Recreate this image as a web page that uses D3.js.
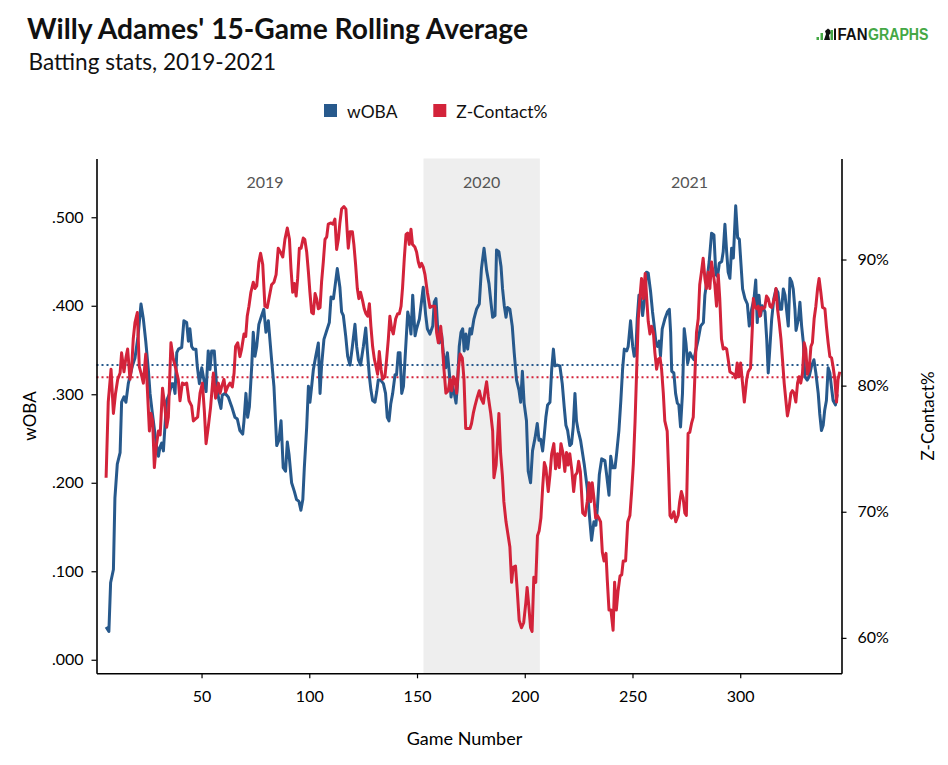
<!DOCTYPE html>
<html><head><meta charset="utf-8">
<script src="https://cdn.jsdelivr.net/npm/d3@7"></script>
<style>body{margin:0;background:#fff;} svg{display:block;font-family:Lato, "Open Sans", sans-serif;}</style>
</head><body><svg id="c" width="948" height="765"></svg>
<script>
// ---- data (game number, value) ----
const wOBA = [[5.7,.037],[7.0,.032],[7.8,.087],[9.1,.102],[9.8,.183],[10.9,.221],[12.2,.234],[12.9,.291],[14.0,.297],[14.9,.291],[16.0,.312],[17.9,.332],[19.1,.341],[20.5,.365],[21.9,.402],[23.0,.385],[24.1,.360],[25.3,.328],[26.1,.301],[27.0,.282],[28.4,.255],[29.2,.240],[30.0,.230],[30.7,.240],[31.5,.245],[32.3,.236],[33.0,.263],[33.8,.293],[35.0,.300],[36.1,.312],[36.9,.312],[37.7,.301],[38.5,.347],[39.3,.351],[40.8,.353],[41.8,.383],[43.1,.381],[43.9,.360],[44.6,.374],[45.4,.354],[46.2,.351],[47.4,.351],[48.0,.332],[49.0,.312],[50.1,.330],[51.1,.316],[52.1,.303],[53.1,.349],[53.9,.328],[54.7,.349],[55.9,.349],[57.0,.309],[58.1,.293],[59.0,.284],[59.6,.299],[60.9,.301],[62.4,.297],[64.0,.286],[65.5,.274],[66.6,.272],[67.8,.259],[69.1,.255],[69.7,.270],[70.6,.301],[71.4,.274],[72.2,.286],[73.3,.332],[74.0,.370],[74.8,.343],[75.6,.354],[76.6,.379],[77.9,.389],[78.9,.396],[79.9,.370],[81.0,.383],[82.5,.339],[83.6,.309],[84.9,.242],[85.9,.248],[86.9,.270],[87.9,.217],[89.0,.213],[89.8,.246],[90.6,.232],[91.8,.200],[93.1,.190],[94.1,.181],[95.2,.179],[96.1,.169],[97.0,.181],[97.7,.217],[98.8,.263],[99.6,.309],[100.3,.291],[101.1,.309],[101.9,.328],[103.0,.343],[104.2,.358],[105.0,.301],[105.7,.332],[106.8,.362],[108.1,.372],[109.3,.381],[110.1,.410],[111.2,.408],[111.9,.421],[113.0,.442],[114.2,.421],[115.0,.393],[115.8,.389],[116.9,.366],[117.8,.343],[118.9,.333],[120.0,.354],[121.2,.379],[122.0,.354],[122.8,.339],[123.8,.333],[125.1,.354],[126.2,.375],[126.9,.351],[127.9,.320],[128.6,.305],[129.4,.293],[130.5,.291],[131.3,.303],[132.0,.316],[133.1,.316],[134.4,.312],[135.4,.301],[136.2,.274],[137.0,.270],[137.8,.289],[138.7,.301],[139.8,.322],[140.5,.322],[141.3,.347],[142.1,.347],[142.9,.301],[143.7,.309],[144.7,.351],[145.7,.393],[146.4,.385],[147.2,.368],[148.0,.412],[149.1,.366],[149.8,.374],[151.1,.385],[152.9,.421],[154.0,.390],[154.8,.374],[156.0,.368],[157.3,.377],[158.0,.404],[158.8,.408],[159.6,.374],[160.4,.358],[161.4,.368],[162.2,.347],[163.3,.330],[164.1,.347],[165.0,.324],[165.8,.297],[166.5,.309],[167.3,.301],[168.1,.290],[168.8,.312],[169.6,.354],[170.4,.370],[171.2,.374],[171.9,.349],[172.7,.368],[173.5,.351],[174.6,.374],[175.3,.368],[176.4,.385],[177.6,.396],[178.9,.402],[179.9,.442],[181.1,.465],[182.3,.440],[183.4,.425],[184.3,.404],[185.1,.387],[186.2,.389],[186.9,.463],[188.0,.461],[189.0,.444],[189.7,.419],[190.5,.400],[191.3,.387],[192.0,.398],[193.1,.396],[194.2,.377],[195.1,.347],[196.2,.316],[197.3,.305],[198.1,.291],[198.9,.326],[199.7,.290],[200.8,.270],[201.6,.213],[202.7,.200],[203.6,.236],[204.8,.251],[205.8,.267],[206.6,.248],[207.4,.249],[208.3,.236],[209.1,.255],[209.8,.274],[210.6,.288],[211.7,.291],[212.5,.328],[213.3,.351],[214.0,.332],[215.1,.333],[216.3,.332],[217.4,.312],[218.3,.286],[219.1,.265],[219.9,.259],[220.9,.242],[221.7,.244],[222.5,.263],[223.3,.301],[224.0,.270],[224.8,.259],[225.9,.248],[227.6,.221],[229.0,.194],[230.0,.163],[231.0,.135],[232.1,.156],[233.0,.152],[233.7,.171],[234.6,.209],[235.7,.227],[237.2,.225],[238.0,.209],[239.1,.186],[239.9,.230],[240.8,.217],[241.9,.217],[242.6,.232],[243.7,.259],[244.6,.293],[245.4,.328],[246.2,.351],[247.3,.349],[248.0,.354],[249.1,.383],[250.1,.354],[250.8,.343],[251.5,.345],[252.2,.385],[253.0,.412],[253.9,.408],[254.7,.389],[255.8,.412],[256.5,.438],[257.3,.437],[258.4,.416],[259.3,.393],[259.9,.381],[260.9,.358],[261.6,.354],[262.4,.360],[263.0,.343],[263.8,.374],[265.0,.385],[266.2,.393],[267.1,.396],[267.7,.370],[268.2,.326],[269.2,.324],[270.0,.301],[270.8,.290],[271.5,.288],[272.3,.263],[273.2,.301],[274.0,.374],[274.8,.358],[275.6,.335],[276.7,.347],[277.4,.343],[278.5,.339],[279.5,.351],[280.5,.362],[281.6,.377],[282.9,.381],[283.6,.412],[284.7,.431],[285.6,.450],[286.7,.482],[287.8,.480],[288.7,.435],[289.5,.433],[290.3,.448],[291.4,.450],[292.1,.461],[292.9,.492],[293.7,.461],[294.4,.438],[295.2,.431],[296.0,.465],[296.8,.454],[297.9,.513],[298.8,.477],[299.6,.475],[301.1,.419],[302.2,.408],[303.3,.402],[304.2,.377],[305.3,.396],[306.4,.408],[307.2,.429],[307.9,.381],[308.7,.412],[309.5,.389],[310.2,.400],[311.5,.393],[312.3,.362],[313.0,.324],[313.8,.354],[314.6,.385],[315.6,.408],[316.6,.419],[317.5,.415],[318.4,.396],[319.2,.396],[320.0,.419],[320.8,.412],[321.6,.393],[322.3,.377],[323.1,.431],[323.9,.427],[324.6,.419],[325.4,.396],[325.9,.372],[327.0,.385],[327.7,.404],[328.5,.377],[329.3,.358],[330.0,.320],[331.1,.316],[332.0,.320],[333.1,.332],[334.2,.339],[335.1,.324],[336.2,.301],[336.9,.278],[337.7,.259],[338.5,.265],[339.2,.282],[340.0,.293],[340.8,.330],[341.6,.324],[342.3,.309],[343.1,.293],[344.2,.288],[345.0,.300]];

const zContact = [[5.7,72.7],[6.7,78.7],[8.0,81.3],[9.1,77.8],[10.1,79.4],[11.1,80.5],[12.2,81.0],[12.9,82.6],[14.0,81.1],[14.9,82.2],[15.7,82.9],[16.8,80.5],[17.6,81.5],[18.3,83.7],[19.1,85.0],[20.2,85.8],[21.1,81.5],[21.9,81.0],[23.0,80.2],[24.1,82.5],[24.8,79.9],[25.8,76.4],[26.5,77.8],[27.3,77.2],[28.1,73.5],[28.9,75.1],[30.0,76.4],[30.8,76.1],[31.9,79.8],[33.0,78.3],[33.8,76.7],[34.6,77.5],[35.8,83.4],[36.9,82.1],[38.1,81.3],[39.2,80.5],[40.0,78.8],[41.1,80.2],[42.0,80.1],[43.1,80.2],[44.2,78.8],[45.4,78.4],[46.2,77.2],[47.4,77.4],[48.2,77.5],[49.3,79.4],[50.4,80.2],[51.3,78.0],[52.1,75.4],[53.1,76.7],[54.2,78.3],[55.5,81.0],[56.5,79.0],[57.8,80.2],[58.6,79.4],[59.3,79.9],[60.4,80.5],[61.2,79.5],[62.1,79.9],[63.2,80.2],[64.3,79.9],[65.1,81.0],[65.8,83.1],[66.8,83.4],[67.8,82.3],[68.6,82.9],[69.7,84.1],[70.5,83.9],[71.2,85.5],[72.0,86.3],[72.9,87.4],[74.0,88.2],[74.8,87.7],[75.6,87.9],[76.6,89.8],[77.4,90.5],[78.4,89.6],[79.4,86.3],[80.5,86.2],[82.5,88.0],[83.6,88.2],[84.6,88.8],[85.6,90.9],[86.6,90.6],[87.7,90.2],[88.7,91.6],[89.8,92.5],[90.8,91.6],[91.5,89.3],[92.3,87.4],[93.1,88.1],[93.9,87.1],[94.6,88.5],[95.4,90.9],[96.2,90.9],[97.2,91.7],[97.9,91.6],[98.8,90.6],[99.6,89.0],[100.3,87.4],[101.1,85.8],[101.9,85.7],[102.7,87.3],[103.4,86.9],[104.2,86.1],[105.0,86.2],[105.7,88.2],[106.5,89.8],[107.3,91.6],[108.1,91.8],[108.8,92.8],[110.1,92.9],[111.0,92.8],[111.9,93.2],[112.7,90.8],[113.5,91.6],[114.2,92.9],[115.0,94.0],[116.1,94.2],[117.0,94.0],[117.6,92.2],[118.1,90.9],[118.9,92.2],[120.0,92.2],[120.7,91.2],[121.5,89.6],[122.3,87.7],[123.0,86.9],[123.8,87.4],[124.8,86.7],[125.5,86.1],[126.3,85.7],[127.1,85.5],[127.9,86.5],[128.6,84.7],[129.4,83.1],[130.2,82.1],[131.0,81.5],[131.7,80.9],[132.5,82.7],[133.3,81.3],[134.0,80.5],[135.1,80.7],[135.9,82.1],[136.7,83.7],[137.4,85.5],[138.2,84.5],[139.0,84.1],[140.1,85.3],[141.0,85.7],[141.8,85.7],[142.6,86.3],[143.3,87.8],[144.1,90.1],[144.9,92.0],[145.6,92.1],[146.4,91.2],[147.2,92.4],[147.9,91.2],[149.0,91.0],[149.8,90.6],[150.6,89.8],[151.3,89.4],[152.1,89.7],[152.9,89.4],[153.7,88.8],[154.8,87.4],[156.0,86.2],[157.1,86.3],[158.3,86.3],[159.1,84.2],[159.9,83.4],[161.0,84.7],[161.7,83.4],[162.5,81.3],[163.4,79.4],[164.5,79.6],[165.3,80.5],[166.1,79.6],[166.9,80.7],[167.6,80.5],[168.4,79.4],[169.2,81.3],[170.0,82.5],[171.0,82.2],[171.8,80.5],[172.6,76.6],[173.5,76.6],[174.6,76.6],[175.3,77.0],[176.1,77.8],[176.9,78.4],[178.0,79.1],[178.9,79.6],[179.7,79.0],[180.8,78.6],[181.6,79.6],[182.3,80.3],[183.1,79.1],[184.2,77.8],[185.1,76.4],[185.7,72.7],[186.7,73.7],[187.4,75.9],[188.0,77.8],[188.8,74.6],[189.6,72.9],[190.3,70.8],[191.3,69.2],[192.3,68.1],[193.1,67.2],[193.9,64.4],[194.6,65.6],[195.7,65.7],[196.5,63.8],[197.4,61.4],[198.5,60.8],[199.5,61.2],[200.5,62.8],[201.1,64.0],[201.9,62.5],[202.7,60.8],[203.4,60.5],[204.2,64.8],[205.1,64.4],[205.9,68.1],[206.7,68.5],[207.5,69.5],[208.3,71.9],[209.1,73.9],[209.8,73.5],[210.9,71.6],[211.7,72.9],[212.5,74.6],[213.5,75.4],[214.3,73.4],[215.2,74.6],[216.0,73.5],[216.8,75.4],[217.8,74.6],[218.6,73.2],[219.4,74.7],[220.1,73.7],[220.9,74.6],[221.9,73.2],[222.7,71.6],[223.5,72.9],[224.3,73.1],[225.0,74.0],[225.8,73.2],[226.9,69.9],[228.0,69.7],[229.0,70.8],[229.8,72.3],[230.6,70.8],[231.3,72.3],[232.1,71.1],[232.9,69.5],[233.7,69.7],[234.4,69.5],[235.2,69.2],[236.0,66.8],[236.8,66.1],[237.7,66.7],[238.3,64.6],[239.1,62.2],[240.0,62.2],[241.0,60.6],[241.7,64.4],[242.5,62.2],[243.3,63.7],[244.2,64.9],[245.0,65.0],[245.7,66.1],[246.8,66.1],[247.8,69.2],[248.8,69.7],[249.6,71.6],[250.4,73.8],[251.2,77.2],[251.9,81.0],[252.7,85.3],[253.5,87.1],[254.2,88.5],[255.0,86.9],[255.9,88.9],[256.6,86.9],[257.3,85.1],[258.1,84.1],[258.9,84.7],[259.7,84.2],[260.4,82.6],[261.2,81.3],[262.0,82.1],[262.8,82.2],[263.5,81.3],[264.3,79.4],[265.0,77.2],[266.1,76.4],[266.8,73.0],[267.4,69.7],[268.1,69.5],[269.2,70.0],[270.1,69.2],[271.2,69.7],[271.9,70.8],[272.7,71.6],[273.5,71.1],[274.3,69.9],[275.0,69.7],[275.8,76.2],[276.6,76.3],[277.4,77.0],[278.2,77.5],[278.9,80.5],[279.7,84.2],[280.5,85.3],[281.2,88.0],[282.0,89.0],[282.8,90.1],[283.6,88.5],[284.3,87.7],[285.1,89.0],[285.9,87.7],[286.7,89.8],[287.4,89.0],[288.2,88.0],[289.0,86.3],[289.8,88.8],[290.5,86.9],[291.3,83.7],[292.1,82.9],[292.9,83.0],[293.7,82.9],[294.4,82.1],[295.2,81.1],[296.0,81.0],[297.1,80.9],[297.8,80.6],[298.6,81.8],[299.4,80.7],[300.2,81.8],[300.9,80.5],[301.9,78.7],[303.0,80.5],[303.7,81.1],[304.8,81.4],[305.6,84.5],[306.1,86.9],[306.8,86.3],[307.6,86.1],[308.4,86.3],[309.1,85.5],[309.9,86.2],[310.7,86.1],[311.4,86.2],[312.2,87.1],[313.0,86.9],[313.8,86.3],[314.6,86.2],[315.3,86.6],[316.1,87.1],[316.6,87.7],[317.3,86.1],[318.1,85.0],[318.9,83.7],[319.6,82.1],[320.4,80.2],[321.2,78.8],[321.9,77.6],[322.7,78.3],[323.5,79.4],[324.2,79.6],[325.0,79.4],[325.8,78.7],[326.6,80.2],[327.3,80.7],[328.1,80.2],[328.9,81.0],[329.7,83.4],[330.4,82.9],[331.2,80.9],[332.0,81.3],[332.8,83.1],[333.5,83.4],[334.3,85.3],[335.1,86.3],[335.9,87.7],[336.6,88.5],[337.4,87.4],[338.2,86.2],[339.3,86.1],[340.0,84.7],[340.8,83.4],[341.6,82.3],[342.4,82.2],[343.1,81.5],[343.9,80.5],[344.7,78.7],[345.4,80.5],[346.2,81.1]];

const wOBAAverage = 0.333;
const zContactAverage = 80.67;
const seasons = [
  {label: "2019", start: 6, end: 153, shaded: false},
  {label: "2020", start: 153, end: 207, shaded: true},
  {label: "2021", start: 207, end: 346, shaded: false}
];
const xTickValues = [50, 100, 150, 200, 250, 300];
const wOBATickValues = [0, 0.1, 0.2, 0.3, 0.4, 0.5];
const zTickValues = [60, 70, 80, 90];
const seriesNames = ["wOBA", "Z-Contact%"];

// ---- layout ----
const BLUE = "#27598c", RED = "#d3233a";
const L = 96.5, R = 841.5, T = 158.5, B = 673.3;
const svg = d3.select("#c");

const x = d3.scaleLinear().domain([1.25, 347]).range([L, R]);
const yL = d3.scaleLinear().domain([-0.0153, 0.5664]).range([B, T]);
const yR = d3.scaleLinear().domain([57.19, 98.01]).range([B, T]);

// shading
svg.append("g").selectAll("rect").data(seasons.filter(s => s.shaded)).join("rect")
  .attr("x", d => x(d.start)).attr("width", d => x(d.end) - x(d.start))
  .attr("y", T).attr("height", B - T).attr("fill", "#eeeeee");

// season labels
svg.append("g").selectAll("text").data(seasons).join("text")
  .attr("x", d => x((d.start + d.end) / 2)).attr("y", 188)
  .attr("text-anchor", "middle").attr("font-size", 16).attr("fill", "#555")
  .text(d => d.label);

// average lines
svg.append("line").attr("x1", L).attr("x2", R).attr("y1", yL(wOBAAverage)).attr("y2", yL(wOBAAverage))
  .attr("stroke", BLUE).attr("stroke-width", 2).attr("stroke-dasharray", "2,3");
svg.append("line").attr("x1", L).attr("x2", R).attr("y1", yR(zContactAverage)).attr("y2", yR(zContactAverage))
  .attr("stroke", RED).attr("stroke-width", 2).attr("stroke-dasharray", "2,3");

// lines
svg.append("path").datum(wOBA)
  .attr("d", d3.line().x(d => x(d[0])).y(d => yL(d[1])))
  .attr("fill", "none").attr("stroke", BLUE).attr("stroke-width", 3).attr("stroke-linejoin", "round");
svg.append("path").datum(zContact)
  .attr("d", d3.line().x(d => x(d[0])).y(d => yR(d[1])))
  .attr("fill", "none").attr("stroke", RED).attr("stroke-width", 3).attr("stroke-linejoin", "round");

// axes
function styleAxis(g) {
  g.select(".domain").attr("stroke", "#000").attr("stroke-width", 1.6);
  g.selectAll(".tick line").attr("stroke", "#000").attr("stroke-width", 1.2);
  g.selectAll(".tick text").attr("fill", "#000").attr("font-size", 16).attr("font-family", "Lato, sans-serif");
}
svg.append("g").attr("transform", `translate(${L},0)`)
  .call(d3.axisLeft(yL).tickValues(wOBATickValues).tickSize(5).tickSizeOuter(0).tickPadding(8)
    .tickFormat(v => d3.format(".3f")(v).replace(/^0/, "")))
  .call(styleAxis);
svg.append("g").attr("transform", `translate(${R},0)`)
  .call(d3.axisRight(yR).tickValues(zTickValues).tickSize(5).tickSizeOuter(0).tickPadding(11)
    .tickFormat(v => v + "%"))
  .call(styleAxis);
svg.append("g").attr("transform", `translate(0,${B})`)
  .call(d3.axisBottom(x).tickValues(xTickValues).tickSize(5).tickSizeOuter(0).tickPadding(12))
  .call(styleAxis);

// axis titles
svg.append("text").attr("transform", "translate(36,416) rotate(-90)").attr("text-anchor", "middle")
  .attr("font-size", 17).attr("fill", "#000").text("wOBA");
svg.append("text").attr("transform", "translate(934,416) rotate(-90)").attr("text-anchor", "middle")
  .attr("font-size", 17).attr("fill", "#000").text("Z-Contact%");
svg.append("text").attr("x", 464.5).attr("y", 745).attr("text-anchor", "middle")
  .attr("font-size", 18).attr("fill", "#000").text("Game Number");

// title
svg.append("text").attr("x", 27).attr("y", 38.5).attr("font-size", 28.2).attr("font-weight", 700)
  .attr("fill", "#111").text("Willy Adames' 15-Game Rolling Average");
svg.append("text").attr("x", 28.5).attr("y", 70).attr("font-size", 22.6).attr("fill", "#111")
  .text("Batting stats, 2019-2021");

// legend
const legendX = [324, 433.3];
const lg = svg.append("g").selectAll("g").data(seriesNames).join("g")
  .attr("transform", (d, i) => `translate(${legendX[i]},104)`);
lg.append("rect").attr("width", 13).attr("height", 13).attr("fill", (d, i) => i ? RED : BLUE);
lg.append("text").attr("x", 23).attr("y", 14.3).attr("font-size", 17.4).attr("fill", "#111").text(d => d);

// logo
const GREEN = "#45a845";
const logo = svg.append("g");
logo.append("rect").attr("x", 816.5).attr("y", 37).attr("width", 2.5).attr("height", 3).attr("fill", GREEN);
logo.append("rect").attr("x", 820.5).attr("y", 33).attr("width", 2.5).attr("height", 7).attr("fill", GREEN);
logo.append("path").attr("d", "M824,40 L826,34 L825,31 L828,28.5 L830,30 L831,33 L829,35 L830,40 Z").attr("fill", "#111");
logo.append("rect").attr("x", 830.5).attr("y", 30).attr("width", 2.5).attr("height", 10).attr("fill", GREEN);
logo.append("rect").attr("x", 834).attr("y", 28.5).attr("width", 2).attr("height", 11.5).attr("fill", "#111");
logo.append("text").attr("x", 837.5).attr("y", 40).attr("font-family", "'Liberation Sans', Arial, sans-serif")
  .attr("font-weight", 700).attr("font-size", 16).attr("fill", "#111")
  .attr("textLength", 30).attr("lengthAdjust", "spacingAndGlyphs").text("FAN");
logo.append("text").attr("x", 868).attr("y", 40).attr("font-family", "'Liberation Sans', Arial, sans-serif")
  .attr("font-weight", 700).attr("font-size", 16).attr("fill", GREEN)
  .attr("textLength", 60.5).attr("lengthAdjust", "spacingAndGlyphs").text("GRAPHS");
</script>
</body></html>
